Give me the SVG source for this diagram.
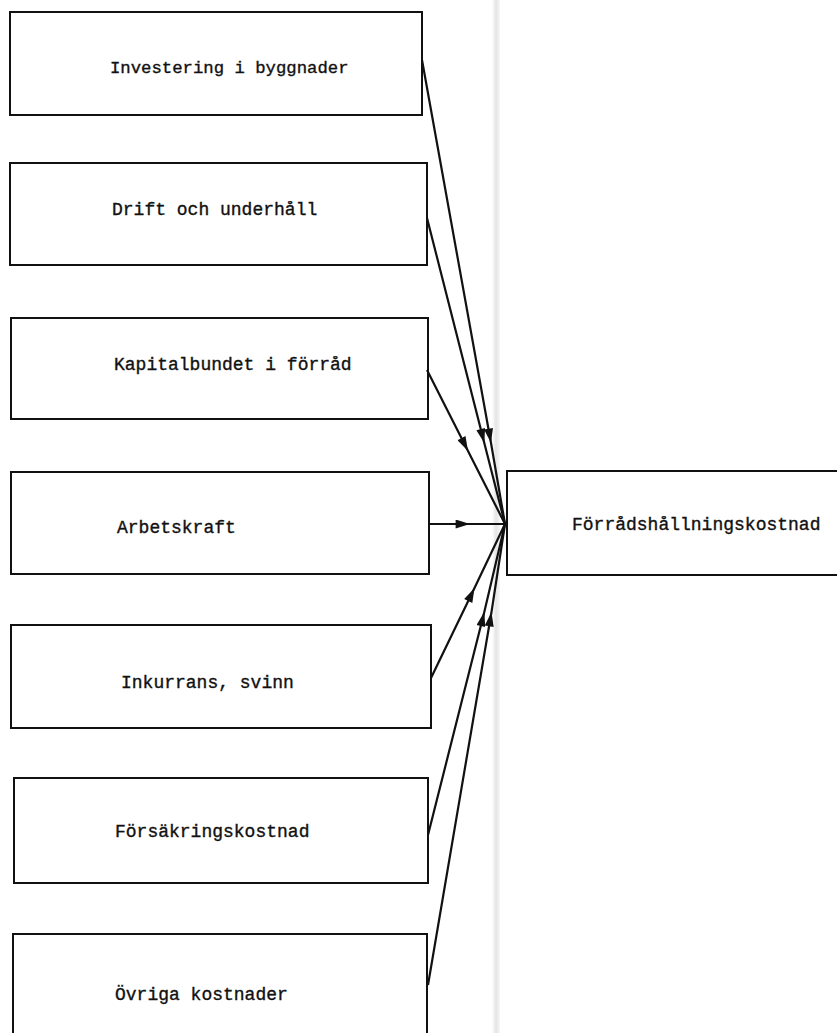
<svg xmlns="http://www.w3.org/2000/svg" width="837" height="1033" viewBox="0 0 837 1033">
  <style>
    .box { fill: none; stroke: #111; stroke-width: 2; }
    .lbl { font-family: "Liberation Mono", "DejaVu Sans Mono", monospace; font-size: 18px; fill: #111; stroke: #111; stroke-width: 0.35; }
    .con { fill: none; stroke: #111; stroke-width: 2.2; marker-mid: url(#tri); }
  </style>
  <defs>
    <marker id="tri" viewBox="0 0 16 10" refX="16" refY="5" markerWidth="16" markerHeight="9" markerUnits="userSpaceOnUse" orient="auto">
      <path d="M0,0 L16,5 L0,10 z" fill="#111"/>
    </marker>
    <linearGradient id="fold" x1="0" x2="1" y1="0" y2="0">
      <stop offset="0" stop-color="#fff"/>
      <stop offset="0.5" stop-color="#e4e4e4"/>
      <stop offset="1" stop-color="#f6f6f6"/>
    </linearGradient>
  </defs>
  <rect width="837" height="1033" fill="#fff"/>
  <!-- page fold -->
  <rect x="492" y="0" width="8" height="1033" fill="url(#fold)"/>

  <g id="investering">
    <rect class="box" x="10" y="12" width="412" height="103"/>
    <text class="lbl" x="110" y="73" style="font-size:17.3px">Investering i byggnader</text>
  </g>
  <g id="drift">
    <rect class="box" x="10" y="163" width="417" height="102"/>
    <text class="lbl" x="112" y="215">Drift och underhåll</text>
  </g>
  <g id="kapital">
    <rect class="box" x="11" y="318" width="417" height="101"/>
    <text class="lbl" x="114" y="370">Kapitalbundet i förråd</text>
  </g>
  <g id="arbetskraft">
    <rect class="box" x="11" y="472" width="418" height="102"/>
    <text class="lbl" x="117" y="533">Arbetskraft</text>
  </g>
  <g id="inkurrans">
    <rect class="box" x="11" y="625" width="420" height="103"/>
    <text class="lbl" x="121" y="688">Inkurrans, svinn</text>
  </g>
  <g id="forsakring">
    <rect class="box" x="14" y="778" width="414" height="105"/>
    <text class="lbl" x="115" y="837">Försäkringskostnad</text>
  </g>
  <g id="ovriga">
    <rect class="box" x="13" y="934" width="414" height="110"/>
    <text class="lbl" x="115" y="1000">Övriga kostnader</text>
  </g>
  <g id="forradshallning">
    <rect class="box" x="507" y="471" width="340" height="104"/>
    <text class="lbl" x="572" y="530">Förrådshållningskostnad</text>
  </g>

  <g id="connectors">
    <polyline class="con" points="422,60 491,443 505,524"/>
    <polyline class="con" points="427,218 484.3,443 505,524"/>
    <polyline class="con" points="427,370 468,451 505,524"/>
    <polyline class="con" points="429,524 470,524 505,524"/>
    <polyline class="con" points="431,678 474.5,588 505,524"/>
    <polyline class="con" points="428,835 484.3,612 505,524"/>
    <polyline class="con" points="428,985 491.5,612 505,524"/>
  </g>
</svg>
